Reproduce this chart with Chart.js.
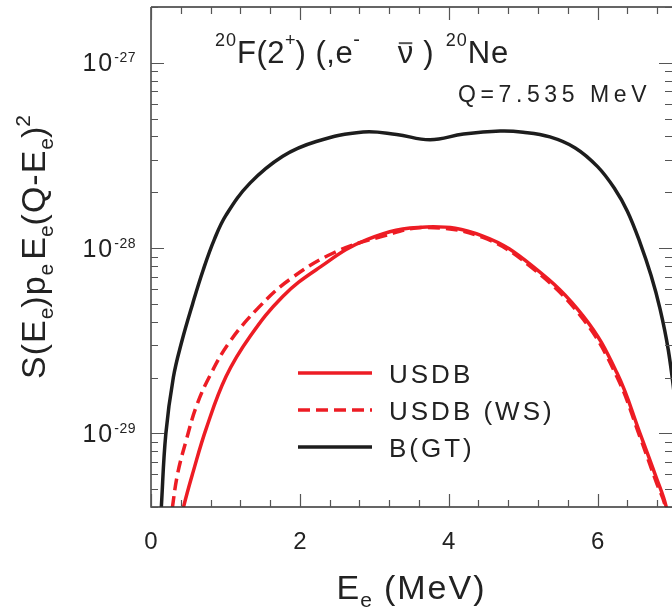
<!DOCTYPE html>
<html>
<head>
<meta charset="utf-8">
<script src="https://cdn.jsdelivr.net/npm/chart.js@4.4.1/dist/chart.umd.min.js"></script>
<style>
  html, body { margin: 0; padding: 0; background: #fff; }
  #wrap { width: 672px; height: 608px; }
</style>
</head>
<body>
<div id="wrap"><canvas id="spectrum-chart" width="672" height="608"></canvas></div>
<script>
// Electron energies (MeV) and spectrum values
const eBGT = [0.10, 0.14, 0.20, 0.30, 0.41, 0.56, 0.70, 0.85, 1.01, 1.33, 1.77, 2.22, 2.85, 3.30, 3.75, 4.20, 4.69, 5.00, 5.36, 5.70, 6.00, 6.23, 6.40, 6.57, 6.72, 6.84, 6.95, 7.05];
const valBGT = [2.00e-30, 4.07e-30, 1.00e-29, 2.00e-29, 3.09e-29, 5.01e-29, 7.59e-29, 1.11e-28, 1.51e-28, 2.24e-28, 3.13e-28, 3.76e-28, 4.23e-28, 4.10e-28, 3.84e-28, 4.12e-28, 4.28e-28, 4.22e-28, 3.98e-28, 3.47e-28, 2.75e-28, 2.09e-28, 1.58e-28, 1.07e-28, 7.08e-29, 4.68e-29, 2.82e-29, 1.41e-29];

const eUSDB = [0.40, 0.44, 0.565, 0.745, 1.01, 1.33, 1.77, 2.22, 2.90, 3.70, 4.46, 5.13, 5.81, 6.26, 6.57, 6.79, 6.92, 6.98];
const valUSDB = [3.31e-30, 4.04e-30, 6.17e-30, 1.07e-29, 2.03e-29, 3.33e-29, 5.48e-29, 7.64e-29, 1.11e-28, 1.30e-28, 1.16e-28, 7.96e-29, 4.28e-29, 2.12e-29, 1.00e-29, 5.75e-30, 4.04e-30, 2.82e-30];

const eWS = [0.26, 0.29, 0.36, 0.476, 0.61, 0.79, 1.06, 1.46, 1.86, 2.45, 3.12, 3.70, 4.46, 5.13, 5.81, 6.26, 6.57, 6.79, 6.91, 6.96];
const valWS = [3.16e-30, 4.04e-30, 6.11e-30, 9.25e-30, 1.40e-29, 2.04e-29, 3.13e-29, 4.84e-29, 6.75e-29, 9.40e-29, 1.16e-28, 1.29e-28, 1.14e-28, 7.76e-29, 4.12e-29, 2.02e-29, 9.55e-30, 5.43e-30, 4.04e-30, 2.82e-30];

// Axis ranges and tick labels
const xRange = [0, 7];
const yRange = [4e-30, 2e-27];
const xTickLabels = ['0', '2', '4', '6'];
const xTickValues = [0, 2, 4, 6];
const xMinorStep = 0.4;
const yTickValues = [1e-29, 1e-28, 1e-27];
const yTickExps = ['-29', '-28', '-27'];
const seriesLabels = ['USDB', 'USDB (WS)', 'B(GT)'];

const RED = '#ed1c24';
const BLACK = '#1d1d1d';
const FONT = '"Liberation Sans", Arial, sans-serif';

function toPoints(xs, ys) {
    return xs.map((x, i) => ({ x: x, y: ys[i] }));
}

// Measure / draw a run of text pieces (normal, super- and subscript)
function runWidth(ctx, runs) {
    let w = 0;
    runs.forEach(r => {
        ctx.font = `${r.size}px ${FONT}`;
        ctx.letterSpacing = (r.ls || 0) + 'px';
        w += ctx.measureText(r.t).width + (r.gap || 0);
    });
    return w;
}

function drawRuns(ctx, x, y, runs) {
    let cx = x;
    runs.forEach(r => {
        ctx.font = `${r.size}px ${FONT}`;
        ctx.letterSpacing = (r.ls || 0) + 'px';
        ctx.fillText(r.t, cx, y + (r.dy || 0));
        const w = ctx.measureText(r.t).width;
        if (r.bar) {
            ctx.save();
            ctx.lineWidth = 2;
            ctx.beginPath();
            ctx.moveTo(cx + 1, y - r.size * 0.64);
            ctx.lineTo(cx + w - 1, y - r.size * 0.64);
            ctx.stroke();
            ctx.restore();
        }
        cx += w + (r.gap || 0);
    });
    return cx;
}

// Frame, inward ticks, labels, titles and legend
const decorPlugin = {
    id: 'decor',
    afterDraw(chart) {
        const ctx = chart.ctx;
        const area = chart.chartArea;
        const xs = chart.scales.x;
        const ys = chart.scales.y;
        ctx.save();
        ctx.fillStyle = '#222';
        ctx.strokeStyle = '#333';
        ctx.textBaseline = 'alphabetic';

        // frame
        ctx.lineWidth = 1.4;
        ctx.beginPath();
        ctx.moveTo(area.left, area.top);
        ctx.lineTo(area.right + 2, area.top);
        ctx.moveTo(area.left, area.top);
        ctx.lineTo(area.left, area.bottom);
        ctx.lineTo(area.right + 2, area.bottom);
        ctx.stroke();

        // x ticks (bottom and top, pointing inward)
        ctx.lineWidth = 1.2;
        ctx.strokeStyle = '#555';
        const nx = Math.round((xRange[1] - xRange[0]) / xMinorStep);
        for (let i = 0; i <= nx; i++) {
            const v = xRange[0] + i * xMinorStep;
            const major = xTickValues.some(t => Math.abs(t - v) < 1e-6);
            const len = major ? 13 : 7;
            const px = Math.round(xs.getPixelForValue(v)) + 0.5;
            ctx.beginPath();
            ctx.moveTo(px, area.bottom);
            ctx.lineTo(px, area.bottom - len);
            ctx.moveTo(px, area.top);
            ctx.lineTo(px, area.top + len);
            ctx.stroke();
        }

        // y ticks (left and right, pointing inward)
        for (let d = -30; d <= -27; d++) {
            for (let m = 1; m <= 9; m++) {
                const v = m * Math.pow(10, d);
                if (v < yRange[0] * 0.999 || v > yRange[1] * 1.001) continue;
                const len = m === 1 ? 13 : 7;
                const py = Math.round(ys.getPixelForValue(v)) + 0.5;
                ctx.beginPath();
                ctx.moveTo(area.left, py);
                ctx.lineTo(area.left + len, py);
                ctx.moveTo(area.right, py);
                ctx.lineTo(area.right - len, py);
                ctx.stroke();
            }
        }

        // x tick labels
        ctx.font = `24px ${FONT}`;
        ctx.letterSpacing = '0px';
        ctx.textAlign = 'center';
        xTickValues.forEach((v, i) => {
            ctx.fillText(xTickLabels[i], xs.getPixelForValue(v), 549);
        });
        ctx.textAlign = 'left';

        // y tick labels 10^n
        yTickValues.forEach((v, i) => {
            const py = ys.getPixelForValue(v);
            const runs = [
                { t: '10', size: 25, ls: 2 },
                { t: yTickExps[i], size: 14, dy: -9, ls: 0.5 }
            ];
            const w = runWidth(ctx, runs);
            drawRuns(ctx, 136 - w, py + 8.5, runs);
        });

        // title 20F(2+)(,e- nubar) 20Ne
        drawRuns(ctx, 215, 63, [
            { t: '20', size: 18, dy: -17, ls: 1 },
            { t: 'F(2', size: 31, ls: 0.5 },
            { t: '+', size: 18, dy: -17 },
            { t: ') (,e', size: 31, ls: 0.5 },
            { t: '-', size: 20, dy: -17, gap: 38 },
            { t: 'ν', size: 31, bar: true, gap: 10 },
            { t: ')', size: 31, gap: 12 },
            { t: '20', size: 18, dy: -17, ls: 1 },
            { t: 'Ne', size: 31, ls: 1 }
        ]);

        // Q value
        drawRuns(ctx, 458, 102, [{ t: 'Q=7.535 MeV', size: 23, ls: 4.6 }]);

        // x axis title
        const xt = [
            { t: 'E', size: 34, ls: 1 },
            { t: 'e', size: 21, dy: 8, gap: 12 },
            { t: '(MeV)', size: 34, ls: 2 }
        ];
        const xw = runWidth(ctx, xt);
        drawRuns(ctx, (area.left + area.right) / 2 - xw / 2, 599, xt);

        // y axis title (rotated)
        const yt = [
            { t: 'S(E', size: 34, ls: 1 },
            { t: 'e', size: 21, dy: 8 },
            { t: ')p', size: 34, ls: 1 },
            { t: 'e', size: 21, dy: 8, gap: 4 },
            { t: 'E', size: 34 },
            { t: 'e', size: 21, dy: 8 },
            { t: '(Q-E', size: 34, ls: 1 },
            { t: 'e', size: 21, dy: 8 },
            { t: ')', size: 34 },
            { t: '2', size: 21, dy: -15 }
        ];
        const yw = runWidth(ctx, yt);
        ctx.save();
        ctx.translate(45, 247);
        ctx.rotate(-Math.PI / 2);
        drawRuns(ctx, -yw / 2, 0, yt);
        ctx.restore();

        // legend
        const legColors = [RED, RED, BLACK];
        const legDash = [[], [12, 6], []];
        const legY = [373, 410, 447];
        seriesLabels.forEach((lab, i) => {
            ctx.save();
            ctx.strokeStyle = legColors[i];
            ctx.lineWidth = 3.5;
            ctx.setLineDash(legDash[i]);
            ctx.beginPath();
            ctx.moveTo(298, legY[i]);
            ctx.lineTo(372, legY[i]);
            ctx.stroke();
            ctx.restore();
            drawRuns(ctx, 389, legY[i] + 9.5, [{ t: lab, size: 26, ls: 3 }]);
        });

        ctx.restore();
    }
};

const ctx = document.getElementById('spectrum-chart').getContext('2d');
const spectrumChart = new Chart(ctx, {
    type: 'line',
    data: {
        datasets: [
            {
                label: seriesLabels[0],
                data: toPoints(eUSDB, valUSDB),
                borderColor: RED,
                borderWidth: 3.5
            },
            {
                label: seriesLabels[1],
                data: toPoints(eWS, valWS),
                borderColor: RED,
                borderWidth: 3.5,
                borderDash: [12, 6]
            },
            {
                label: seriesLabels[2],
                data: toPoints(eBGT, valBGT),
                borderColor: BLACK,
                borderWidth: 3.5
            }
        ]
    },
    options: {
        responsive: false,
        animation: false,
        events: [],
        layout: { padding: { top: 7, right: 0, left: 0, bottom: 0 } },
        elements: {
            point: { radius: 0 },
            line: { tension: 0.4, fill: false }
        },
        datasets: { line: { clip: 0 } },
        plugins: {
            legend: { display: false },
            tooltip: { enabled: false }
        },
        scales: {
            x: {
                type: 'linear',
                min: xRange[0],
                max: xRange[1],
                ticks: { display: false },
                grid: { display: false },
                border: { display: false },
                afterFit(scale) { scale.height = 101; }
            },
            y: {
                type: 'logarithmic',
                min: yRange[0],
                max: yRange[1],
                ticks: { display: false },
                grid: { display: false },
                border: { display: false },
                afterFit(scale) { scale.width = 151; }
            }
        }
    },
    plugins: [decorPlugin]
});
</script>
</body>
</html>
